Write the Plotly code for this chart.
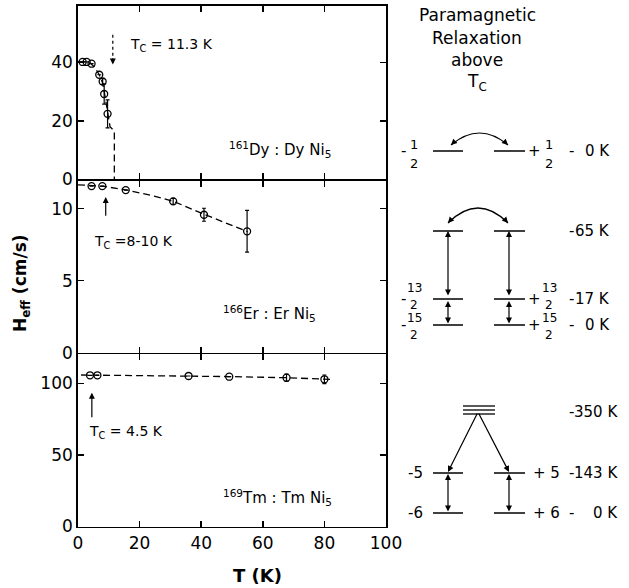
import plotly.graph_objects as go

# ---------------- data ----------------
T_ticks = [0, 20, 40, 60, 80, 100]

dy_T = [1.5, 2.8, 4.4, 6.9, 8.0, 8.5, 9.6]
dy_H = [40.2, 40.2, 39.6, 35.8, 33.5, 29.2, 22.4]
dy_err = [0, 0, 0, 0, 1.0, 3.5, 4.8]
dy_fit_T = [0, 2, 4, 5.5, 6.9, 8.0, 8.6, 9.6, 10.4, 11.8, 11.8]
dy_fit_H = [40.3, 40.2, 39.8, 38.3, 35.8, 33.0, 29.5, 23.0, 18.0, 16.5, 0]
dy_ticks = [0, 20, 40]
dy_tc = 11.3

er_T = [4.4, 7.9, 15.5, 30.9, 40.9, 54.9]
er_H = [11.56, 11.56, 11.28, 10.5, 9.57, 8.42]
er_err = [0, 0, 0, 0.2, 0.45, 1.45]
er_fit_T = [0, 4.4, 8, 15.5, 25, 31, 41, 55]
er_fit_H = [11.65, 11.6, 11.55, 11.3, 10.85, 10.5, 9.6, 8.4]
er_ticks = [0, 5, 10]
er_tc = 9.0

tm_T = [3.9, 6.3, 35.9, 49.1, 67.7, 80.0]
tm_H = [105.7, 105.7, 105.2, 104.7, 104.0, 102.9]
tm_err = [0, 0, 0, 0, 2.5, 3.0]
tm_fit_T = [1, 20, 36, 49, 68, 80, 83]
tm_fit_H = [105.9, 105.6, 105.2, 104.8, 104.0, 103.0, 102.8]
tm_ticks = [0, 50, 100]
tm_tc = 4.5

# level-scheme labels (right-hand diagram): (numerator, denominator, energy)
dy_levels = [("1", "2", "0 K")]
er_levels = [("", "", "65 K"), ("13", "2", "17 K"), ("15", "2", "0 K")]
tm_levels = [("5", "143 K"), ("6", "0 K")]
tm_top = "350 K"

# ---------------- figure geometry ----------------
W, H = 629, 588
FONT = "DejaVu Sans"
LW = 1.8
xdom = [78 / W, 386 / W]
def ydom(top, bot):
    return [1 - bot / H, 1 - top / H]

fig = go.Figure()

marker = dict(symbol="circle-open", size=7, color="black", line=dict(width=1.3, color="black"))
fitline = dict(color="black", width=1.3, dash="7px,4px")

def add_panel(T, Hv, err, fT, fH, xa, ya):
    fig.add_trace(go.Scatter(x=fT, y=fH, mode="lines", line=fitline, xaxis=xa, yaxis=ya,
                             showlegend=False, hoverinfo="skip"))
    fig.add_trace(go.Scatter(x=T, y=Hv, mode="markers", marker=marker, xaxis=xa, yaxis=ya,
                             error_y=dict(type="data", array=err, visible=True, color="black",
                                          thickness=1.2, width=2),
                             showlegend=False))

add_panel(dy_T, dy_H, dy_err, dy_fit_T, dy_fit_H, "x", "y")
add_panel(er_T, er_H, er_err, er_fit_T, er_fit_H, "x2", "y2")
add_panel(tm_T, tm_H, tm_err, tm_fit_T, tm_fit_H, "x3", "y3")
fig.add_trace(go.Scatter(x=[], y=[], xaxis="x4", yaxis="y4", showlegend=False))

tickfont = dict(family=FONT, size=17, color="black")
def xax(anchor, labels):
    return dict(domain=xdom, range=[0, 100], tickvals=T_ticks, ticks="inside", ticklen=6,
                tickwidth=1.5, tickcolor="black", showline=True, linecolor="black", linewidth=LW,
                mirror="ticks", showgrid=False, zeroline=False, showticklabels=labels,
                tickfont=tickfont, anchor=anchor, fixedrange=True, automargin=False)
def yax(anchor, dom, rng, tv):
    return dict(domain=dom, range=rng, tickvals=tv, ticks="inside", ticklen=6,
                tickwidth=1.5, tickcolor="black", showline=True, linecolor="black", linewidth=LW,
                mirror="ticks", showgrid=False, zeroline=False, tickfont=tickfont,
                anchor=anchor, fixedrange=True, automargin=False)

ann = []
shapes = []

def text(x, y, s, size=14, xref="x4", yref="y4", xanchor="center", yanchor="middle", **kw):
    ann.append(dict(x=x, y=y, text=s, xref=xref, yref=yref, showarrow=False, xanchor=xanchor,
                    yanchor=yanchor, font=dict(family=FONT, size=size, color="black"), **kw))

def arrow(xh, yh, xt, yt, ref=("x4", "y4"), both=False, size=1.0):
    ann.append(dict(x=xh, y=yh, ax=xt, ay=yt, xref=ref[0], yref=ref[1], axref=ref[0], ayref=ref[1],
                    text="", showarrow=True, arrowhead=2, arrowsize=size, arrowwidth=1.2,
                    arrowcolor="black", startarrowhead=2, startarrowsize=size,
                    arrowside="end+start" if both else "end"))

def line(x0, y0, x1, y1, ref=("x4", "y4"), width=1.5, dash=None):
    shapes.append(dict(type="line", x0=x0, y0=y0, x1=x1, y1=y1, xref=ref[0], yref=ref[1],
                       line=dict(color="black", width=width, dash=dash)))

# --- panel annotations ---
text(16.2, 46.1, "T<sub>C</sub> = 11.3 K", 14, "x", "y", "left")
line(dy_tc, 49.5, dy_tc, 42.0, ("x", "y"), 1.2, "3px,3px")
arrow(dy_tc, 39.3, dy_tc, 42.0, ("x", "y"))
text(48.5, 10.0, "<sup>161</sup>Dy : Dy Ni<sub>5</sub>", 15, "x", "y", "left")

text(4.7, 7.7, "T<sub>C</sub> =8-10 K", 14, "x2", "y2", "left")
arrow(er_tc, 10.8, er_tc, 9.4, ("x2", "y2"))
text(46.5, 2.7, "<sup>166</sup>Er : Er Ni<sub>5</sub>", 15, "x2", "y2", "left")

text(2.8, 66.3, "T<sub>C</sub> = 4.5 K", 14, "x3", "y3", "left")
arrow(tm_tc, 93.5, tm_tc, 75.3, ("x3", "y3"))
text(46.5, 20.5, "<sup>169</sup>Tm : Tm Ni<sub>5</sub>", 15, "x3", "y3", "left")

# axis titles
text(257, 575, "<b>T (K)</b>", 18)
text(21, 283, "<b>H<sub>eff</sub> (cm/s)</b>", 17, textangle=-90)

# --- right-hand diagram ---
for i, s in enumerate(["Paramagnetic", "Relaxation", "above", "T<sub>C</sub>"]):
    text(477, 15 + 22.5 * i, s, 17)

LX0, LX1, RX0, RX1 = 433, 463, 494, 525
LA, RA = 448, 509

def level_pair(y, num, den, energy, fy=0, fs=11, gap=8, e_end=612):
    line(LX0, y, LX1, y)
    line(RX0, y, RX1, y)
    if num:
        text(403, y, "-", 15)
        text(414, y - gap + fy, num, fs)
        text(414, y + gap + 1 + fy, den, fs)
        text(534, y, "+", 15)
        text(549, y - gap + fy, num, fs)
        text(549, y + gap + 1 + fy, den, fs)
    text(571, y, "-", 15)
    text(e_end, y, energy, 15, xanchor="right")

def curved(xl, xr, y, cy):
    shapes.append(dict(type="path", path=f"M {xl},{y} Q {(xl+xr)/2},{cy} {xr},{y}",
                       xref="x4", yref="y4", line=dict(color="black", width=1.2)))
    arrow(xl, y, xl + 0.35 * ((xl+xr)/2 - xl) * 0.3, y + (cy - y) * 0.12)
    arrow(xr, y, xr - 0.35 * (xr - (xl+xr)/2) * 0.3, y + (cy - y) * 0.12)

# Dy
n, d, e = dy_levels[0]
level_pair(151, n, d, e, fy=2, fs=13, gap=9)
curved(451, 508, 145, 121)

# Er
er_y = [231, 299, 325]
er_shift = [0, -3, 1]
for y, s, (n, d, e) in zip(er_y, er_shift, er_levels):
    level_pair(y, n, d, e, fy=s, fs=12)
curved(448, 508, 223, 193)
for x in (LA, RA):
    arrow(x, er_y[0], x, er_y[1] - 2, both=True)
    arrow(x, er_y[1] + 2, x, er_y[2], both=True)

# Tm
for yy in (406, 410, 414):
    line(463, yy, 495, yy, width=1.3)
text(571, 412, "-", 15)
text(620, 412, tm_top, 15, xanchor="right")
tm_y = [473, 513]
for y, (n, e) in zip(tm_y, tm_levels):
    line(LX0, y, LX1, y)
    line(RX0, y, RX1, y)
    text(415, y, "-" + n, 15)
    text(546, y, "+ " + n, 15)
    text(571, y, "-", 15)
    text(620, y, e, 15, xanchor="right")
arrow(LA, tm_y[0] - 1, 478, 412)
arrow(RA, tm_y[0] - 1, 478, 412)
for x in (LA, RA):
    arrow(x, tm_y[0] + 1, x, tm_y[1], both=True)

h = LW / 2  # shared panel borders: make adjacent axis lines coincide
fig.update_layout(
    width=W, height=H, margin=dict(l=0, r=0, t=0, b=0),
    paper_bgcolor="white", plot_bgcolor="rgba(0,0,0,0)", showlegend=False,
    xaxis=xax("y", False), yaxis=yax("x", ydom(6, 180 - h), [0, 59.4], dy_ticks),
    xaxis2=xax("y2", False), yaxis2=yax("x2", ydom(180 + h, 353.5 - h), [0, 11.92], er_ticks),
    xaxis3=xax("y3", True), yaxis3=yax("x3", ydom(353.5 + h, 526.5), [0, 120.3], tm_ticks),
    xaxis4=dict(domain=[0, 1], range=[0, W], visible=False, anchor="y4", fixedrange=True,
                automargin=False),
    yaxis4=dict(domain=[0, 1], range=[H, 0], visible=False, anchor="x4", fixedrange=True,
                automargin=False),
    annotations=ann, shapes=shapes,
)
fig.write_html("out.html", config={"displayModeBar": False, "staticPlot": True},
               post_script="document.body.style.margin='0px';document.body.style.padding='0px';"
                           "document.body.style.overflow='hidden';")
